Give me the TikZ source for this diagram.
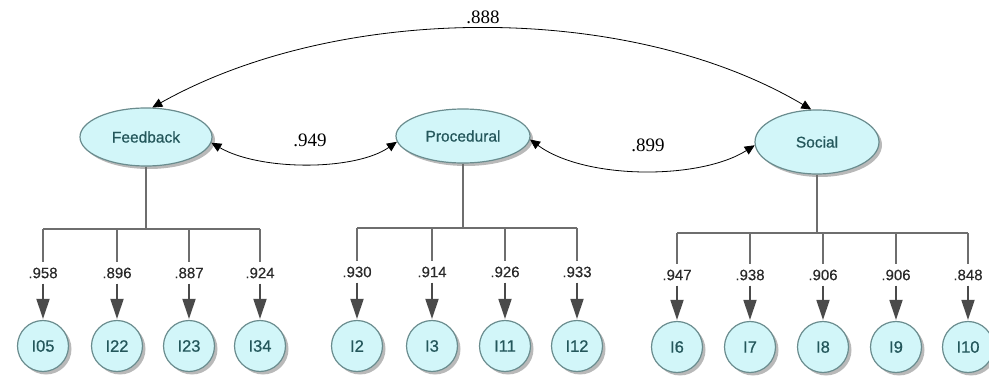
\documentclass[tikz,border=0pt]{standalone}
\usepackage{fontspec}
\setmainfont{Liberation Serif}
\setsansfont{Liberation Sans}
\newfontfamily\heavysans{Liberation Sans}[FakeBold=0.7]
\newfontfamily\midsans{Liberation Sans}[FakeBold=0.35]
\usetikzlibrary{shapes.geometric,arrows.meta,shadows}
\definecolor{nodefill}{HTML}{D2F6F9}
\definecolor{nodedraw}{HTML}{6A8C8E}
\definecolor{nodetext}{HTML}{24575B}
\definecolor{treecol}{HTML}{6E6E6E}
\definecolor{arrcol}{HTML}{4A4A4A}
\definecolor{labcol}{HTML}{2A2A2A}
\tikzset{
  latent/.style={ellipse, draw=nodedraw, line width=1.2pt, fill=nodefill, inner sep=0pt,
    text=nodetext, font=\heavysans\fontsize{15.5pt}{18pt}\selectfont,
    drop shadow={shadow xshift=3pt, shadow yshift=-3pt, fill=black!50, opacity=0.55}},
  item/.style={circle, draw=nodedraw, line width=1.2pt, fill=nodefill, inner sep=0pt,
    minimum size=51pt, text=nodetext, font=\heavysans\fontsize{16.5pt}{18pt}\selectfont,
    drop shadow={shadow xshift=3pt, shadow yshift=-3pt, fill=black!50, opacity=0.55}},
  load/.style={text=labcol, inner sep=2pt, font=\midsans\fontsize{15pt}{17pt}\selectfont},
  corr/.style={text=black, inner sep=1pt, font=\rmfamily\fontsize{19pt}{21pt}\selectfont},
  tree/.style={draw=treecol, line width=1.3pt},
  itemarrow/.style={draw=arrcol, line width=1.8pt, shorten <=3pt, shorten >=1pt,
    -{Triangle[length=20pt,width=13pt]}},
  corrarrow/.style={draw=black, line width=0.8pt,
    {Triangle[length=10pt,width=9pt]}-{Triangle[length=10pt,width=9pt]}}
}
\begin{document}
\begin{tikzpicture}[x=1pt,y=-1pt]
\useasboundingbox (0,0) rectangle (989,385);

% latent variables
\node[latent, minimum width=132pt, minimum height=58pt] (fb) at (146,137) {Feedback};
\node[latent, minimum width=134pt, minimum height=54pt] (pr) at (463,136) {Procedural};
\node[latent, minimum width=124pt, minimum height=64pt] (so) at (817,142) {Social};

% correlations
\draw[corrarrow] (fb.78) .. controls (340,2) and (630,2) .. (so.100);
\draw[corrarrow] (fb.-5) .. controls (260,171) and (355,171) .. (pr.185);
\draw[corrarrow] (pr.-3) .. controls (585,180) and (700,180) .. (so.183);
\node[corr] (c1) at (483,17) {.888};
\node[corr] (c2) at (310,140) {.949};
\node[corr] (c3) at (648,145) {.899};

% bar levels
\coordinate (fbb) at (0,229);
\coordinate (prb) at (0,228);
\coordinate (sob) at (0,233);

% Feedback items
\foreach \n/\x/\l/\v in {a/43/I05/.958, b/117/I22/.896, c/189/I23/.887, d/260/I34/.924}{
  \node[load] (fl\n) at (\x,273) {\v};
  \node[item] (fi\n) at (\x,346) {\l};
  \draw[tree, shorten >=3pt] (fl\n.north |- fbb) -- (fl\n.north);
  \draw[itemarrow] (fl\n) -- (fi\n);
}
\draw[tree] (fla.north |- fbb) -- (fld.north |- fbb);
\draw[tree] (fb.south) -- (fb.south |- fbb);

% Procedural items
\foreach \n/\x/\l/\v in {a/357/I2/.930, b/432/I3/.914, c/505/I11/.926, d/577/I12/.933}{
  \node[load] (pl\n) at (\x,272) {\v};
  \node[item] (pi\n) at (\x,346) {\l};
  \draw[tree, shorten >=3pt] (pl\n.north |- prb) -- (pl\n.north);
  \draw[itemarrow] (pl\n) -- (pi\n);
}
\draw[tree] (pla.north |- prb) -- (pld.north |- prb);
\draw[tree] (pr.south) -- (pr.south |- prb);

% Social items
\foreach \n/\x/\l/\v in {a/677/I6/.947, b/750/I7/.938, c/823/I8/.906, d/896/I9/.906, e/968/I10/.848}{
  \node[load] (sl\n) at (\x,275) {\v};
  \node[item] (si\n) at (\x,347) {\l};
  \draw[tree, shorten >=3pt] (sl\n.north |- sob) -- (sl\n.north);
  \draw[itemarrow] (sl\n) -- (si\n);
}
\draw[tree] (sla.north |- sob) -- (sle.north |- sob);
\draw[tree] (so.south) -- (so.south |- sob);
\end{tikzpicture}
\end{document}
